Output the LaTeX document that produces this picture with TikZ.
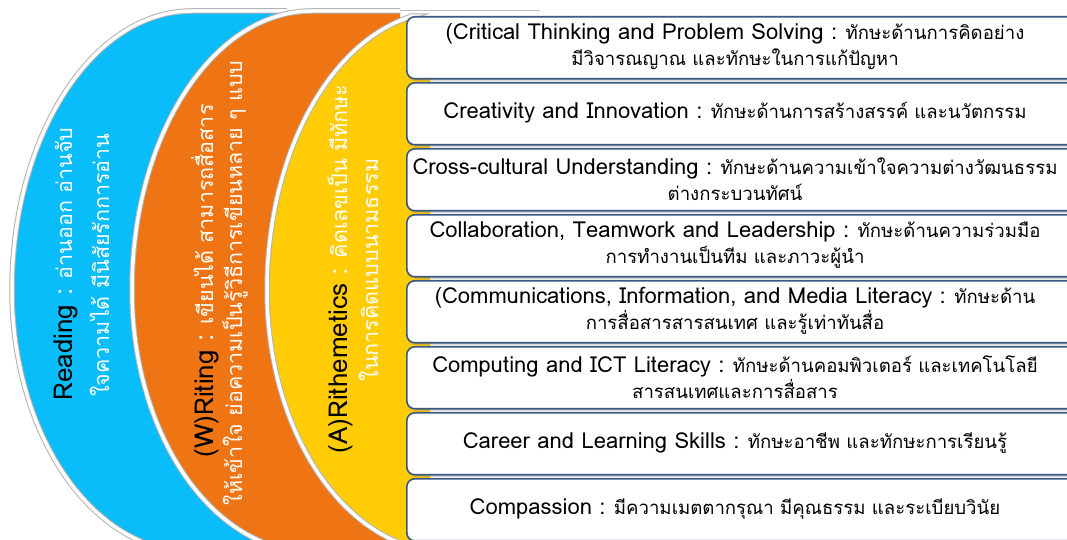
\documentclass[tikz,border=0pt]{standalone}
\usepackage{fontspec}
\setmainfont{Loma}[Script=Thai]
\usetikzlibrary{shadows,calc}
\definecolor{cblue}{RGB}{8,189,250}
\definecolor{corange}{RGB}{239,117,20}
\definecolor{cyellow}{RGB}{255,204,6}
\definecolor{cborder}{RGB}{58,88,128}
\pgfdeclareverticalshading{boxshade}{100bp}{color(0bp)=(black!35); color(12bp)=(black!12); color(25bp)=(white); color(100bp)=(white)}
\newcommand\lat[1]{{\fontsize{22}{26}\selectfont #1}}
\newcommand\biglat[1]{{\fontsize{26}{30}\selectfont #1}}
% #1 centre x, #2 fill right x, #3 colour, #4 start angle, #5 rim right x
\newcommand\curvedband[5]{%
  \fill[#3] (#1,250) ++(#4:180 and 279) coordinate (s#3)
    arc[start angle=#4,end angle=180,x radius=180,y radius=279]
    arc[start angle=180,end angle=270,x radius=180,y radius=262]
    -- (#2,-12) -- (#2,0 |- s#3) -- cycle;
  \draw[rimouter] (#5,0 |- s#3) -- (s#3)
    arc[start angle=#4,end angle=180,x radius=180,y radius=279]
    arc[start angle=180,end angle=270,x radius=180,y radius=262];
  \draw[riminner] (#5,0 |- s#3) -- (s#3)
    arc[start angle=#4,end angle=180,x radius=180,y radius=279]
    arc[start angle=180,end angle=270,x radius=180,y radius=262];
}
\begin{document}
\begin{tikzpicture}[x=1pt,y=1pt,
  boxstyle/.style={draw=cborder, line width=1.6pt, rounded corners=8pt, shading=boxshade,
    minimum width=670pt, minimum height=62pt, inner sep=0pt, anchor=north west,
    drop shadow={opacity=0.3, shadow xshift=0pt, shadow yshift=-2pt}},
  boxtext/.style={font=\fontsize{18.6}{26}\selectfont, align=center, text=black, inner sep=0pt},
  sidetext/.style={font=\fontsize{21.5}{26}\selectfont, rotate=90, anchor=base, inner sep=0pt, text=white},
  rimouter/.style={draw=black!30, line width=5.5pt},
  riminner/.style={draw=white, line width=3.5pt},
  faint/.style={draw=black!25, line width=0.8pt},
]
\path[use as bounding box] (0,0) rectangle (1067,540);
\clip (0,0) rectangle (1067,540);
\fill[white] (0,0) rectangle (1067,540);

\curvedband{192}{342}{cblue}{90}{287}
\curvedband{312}{400}{corange}{90}{400}
\curvedband{447}{430}{cyellow}{101}{409}
\coordinate (fa) at (400,530);
\coordinate (fb) at (540,530);
\draw[faint] (fa) -- (fb);

% side texts
\node[sidetext] (r1) at (72,276) {\biglat{\textcolor{black}{Reading} :} อ่านออก อ่านจับ};
\node[sidetext] (r2) at (109,275) {ใจความได้ มีนิสัยรักการอ่าน};
\node[sidetext] (w1) at (213,259) {\biglat{\textcolor{black}{(W)Riting} :} เขียนได้ สามารถสื่อสาร};
\node[sidetext] (w2) at (242,257) {ให้เข้าใจ ย่อความเป็นรู้วิธีการเขียนหลาย ๆ แบบ};
\node[sidetext] (a1) at (347,271) {\biglat{\textcolor{black}{(A)Rithemetics} :} คิดเลขเป็น มีทักษะ};
\node[sidetext] (a2) at (378,270) {ในการคิดแบบนามธรรม};

% boxes
\node[boxstyle] (b1) at (406,524) {};
\node[boxstyle] (b2) at (406,458) {};
\node[boxstyle] (b3) at (406,392) {};
\node[boxstyle] (b4) at (406,326) {};
\node[boxstyle] (b5) at (406,260) {};
\node[boxstyle] (b6) at (406,194) {};
\node[boxstyle] (b7) at (406,128) {};
\node[boxstyle] (b8) at (406,62) {};

\node[boxtext] (t1) at (735,493) {\lat{(Critical Thinking and Problem Solving :} ทักษะด้านการคิดอย่าง\\มีวิจารณญาณ และทักษะในการแก้ปัญหา};
\node[boxtext] (t2) at (735,427) {\lat{Creativity and Innovation :} ทักษะด้านการสร้างสรรค์ และนวัตกรรม};
\node[boxtext] (t3) at (735,361) {\lat{Cross-cultural Understanding :} ทักษะด้านความเข้าใจความต่างวัฒนธรรม\\ต่างกระบวนทัศน์};
\node[boxtext] (t4) at (735,295) {\lat{Collaboration, Teamwork and Leadership :} ทักษะด้านความร่วมมือ\\การทำงานเป็นทีม และภาวะผู้นำ};
\node[boxtext] (t5) at (735,229) {\lat{(Communications, Information, and Media Literacy :} ทักษะด้าน\\การสื่อสารสารสนเทศ และรู้เท่าทันสื่อ};
\node[boxtext] (t6) at (735,163) {\lat{Computing and ICT Literacy :} ทักษะด้านคอมพิวเตอร์ และเทคโนโลยี\\สารสนเทศและการสื่อสาร};
\node[boxtext] (t7) at (735,97) {\lat{Career and Learning Skills :} ทักษะอาชีพ และทักษะการเรียนรู้};
\node[boxtext] (t8) at (735,31) {\lat{Compassion :} มีความเมตตากรุณา มีคุณธรรม และระเบียบวินัย};
\end{tikzpicture}
\end{document}
